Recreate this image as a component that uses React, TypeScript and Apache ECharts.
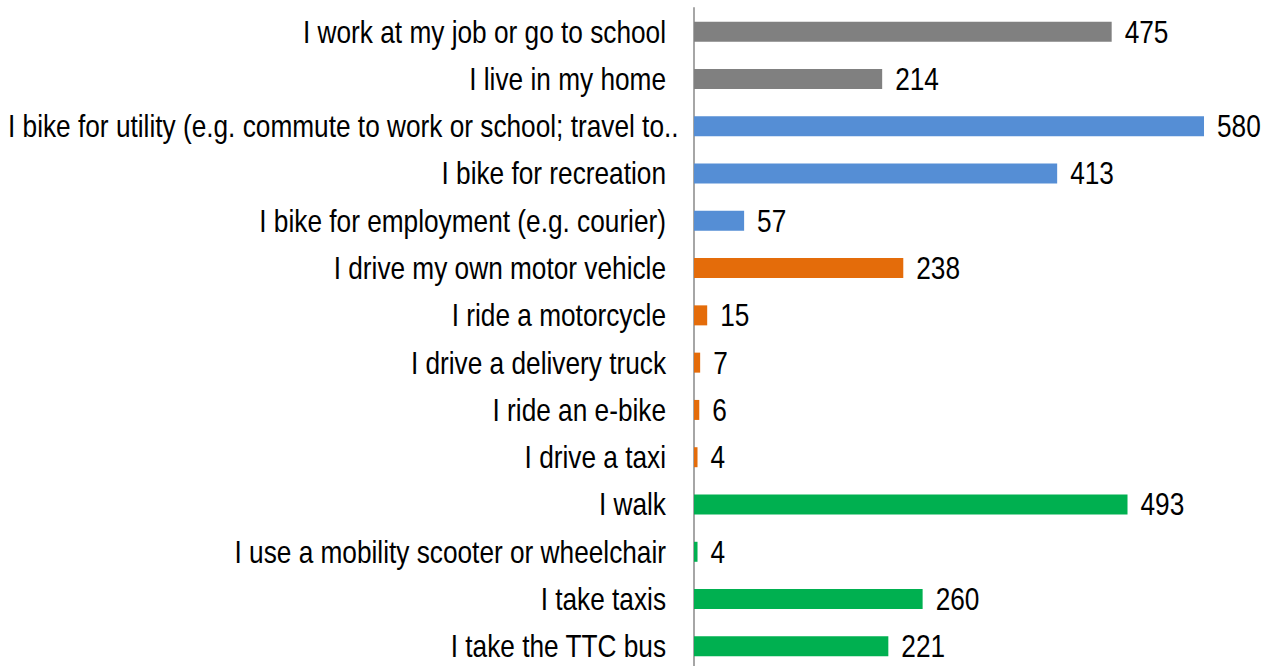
import React, { useEffect, useRef } from "react";
import * as echarts from "echarts";

const categories = [
  "I work at my job or go to school",
  "I live in my home",
  "I bike for utility (e.g. commute to work or school; travel to..",
  "I bike for recreation",
  "I bike for employment (e.g. courier)",
  "I drive my own motor vehicle",
  "I ride a motorcycle",
  "I drive a delivery truck",
  "I ride an e-bike",
  "I drive a taxi",
  "I walk",
  "I use a mobility scooter or wheelchair",
  "I take taxis",
  "I take the TTC bus",
];
const values = [475, 214, 580, 413, 57, 238, 15, 7, 6, 4, 493, 4, 260, 221];
const groups = ["general", "general", "bike", "bike", "bike", "motor", "motor", "motor", "motor", "motor", "other", "other", "other", "other"];
const groupColors: Record<string, string> = {
  general: "#808080",
  bike: "#558ED5",
  motor: "#E46C0A",
  other: "#00B050",
};

const FONT = "'Liberation Sans', Arial, sans-serif";
const FONT_SIZE = 32;
const NARROW = 0.82;

export default function App() {
  const ref = useRef<HTMLDivElement>(null);
  useEffect(() => {
    document.body.style.margin = "0";
    if (!ref.current) return;
    const chart = echarts.init(ref.current, undefined, { renderer: "svg" });
    chart.setOption({
      animation: false,
      backgroundColor: "#ffffff",
      grid: {
        left: 694,
        top: 8,
        width: 527.6,
        height: 662,
        containLabel: false,
        outerBoundsMode: "none",
      },
      xAxis: {
        type: "value",
        min: 0,
        max: 600,
        show: false,
        splitLine: { show: false },
      },
      yAxis: {
        type: "category",
        data: categories,
        inverse: true,
        axisLine: { show: true, lineStyle: { color: "#a6a6a6", width: 2 } },
        axisTick: { show: false },
        axisLabel: { show: false },
      },
      series: [
        {
          type: "bar",
          barWidth: 20,
          data: values.map((v, i) => ({
            value: v,
            itemStyle: { color: groupColors[groups[i]] },
          })),
          label: { show: false },
        },
      ],
    });

    const ctx = document.createElement("canvas").getContext("2d");
    if (ctx) ctx.font = `${FONT_SIZE}px ${FONT}`;
    const axisX = chart.convertToPixel({ xAxisIndex: 0 }, 0) as number;
    const graphics: any[] = [];
    categories.forEach((c, i) => {
      const cy = chart.convertToPixel({ yAxisIndex: 0 }, i) as number;
      const w = ctx ? ctx.measureText(c).width * NARROW : 0;
      const rightX = axisX - 28;
      const overflow = rightX - w < 8;
      graphics.push({
        type: "text",
        x: overflow ? 8 : rightX,
        y: cy,
        scaleX: NARROW,
        style: {
          text: c,
          fontFamily: FONT,
          fontSize: FONT_SIZE,
          fill: "#000000",
          textAlign: overflow ? "left" : "right",
          textVerticalAlign: "middle",
        },
      });
      const vx = chart.convertToPixel({ xAxisIndex: 0 }, values[i]) as number;
      graphics.push({
        type: "text",
        x: vx + 13,
        y: cy,
        scaleX: NARROW,
        style: {
          text: String(values[i]),
          fontFamily: FONT,
          fontSize: FONT_SIZE,
          fill: "#000000",
          textAlign: "left",
          textVerticalAlign: "middle",
        },
      });
    });
    chart.setOption({ graphic: graphics });
    return () => chart.dispose();
  }, []);
  return <div ref={ref} style={{ width: 1267, height: 666 }} />;
}
